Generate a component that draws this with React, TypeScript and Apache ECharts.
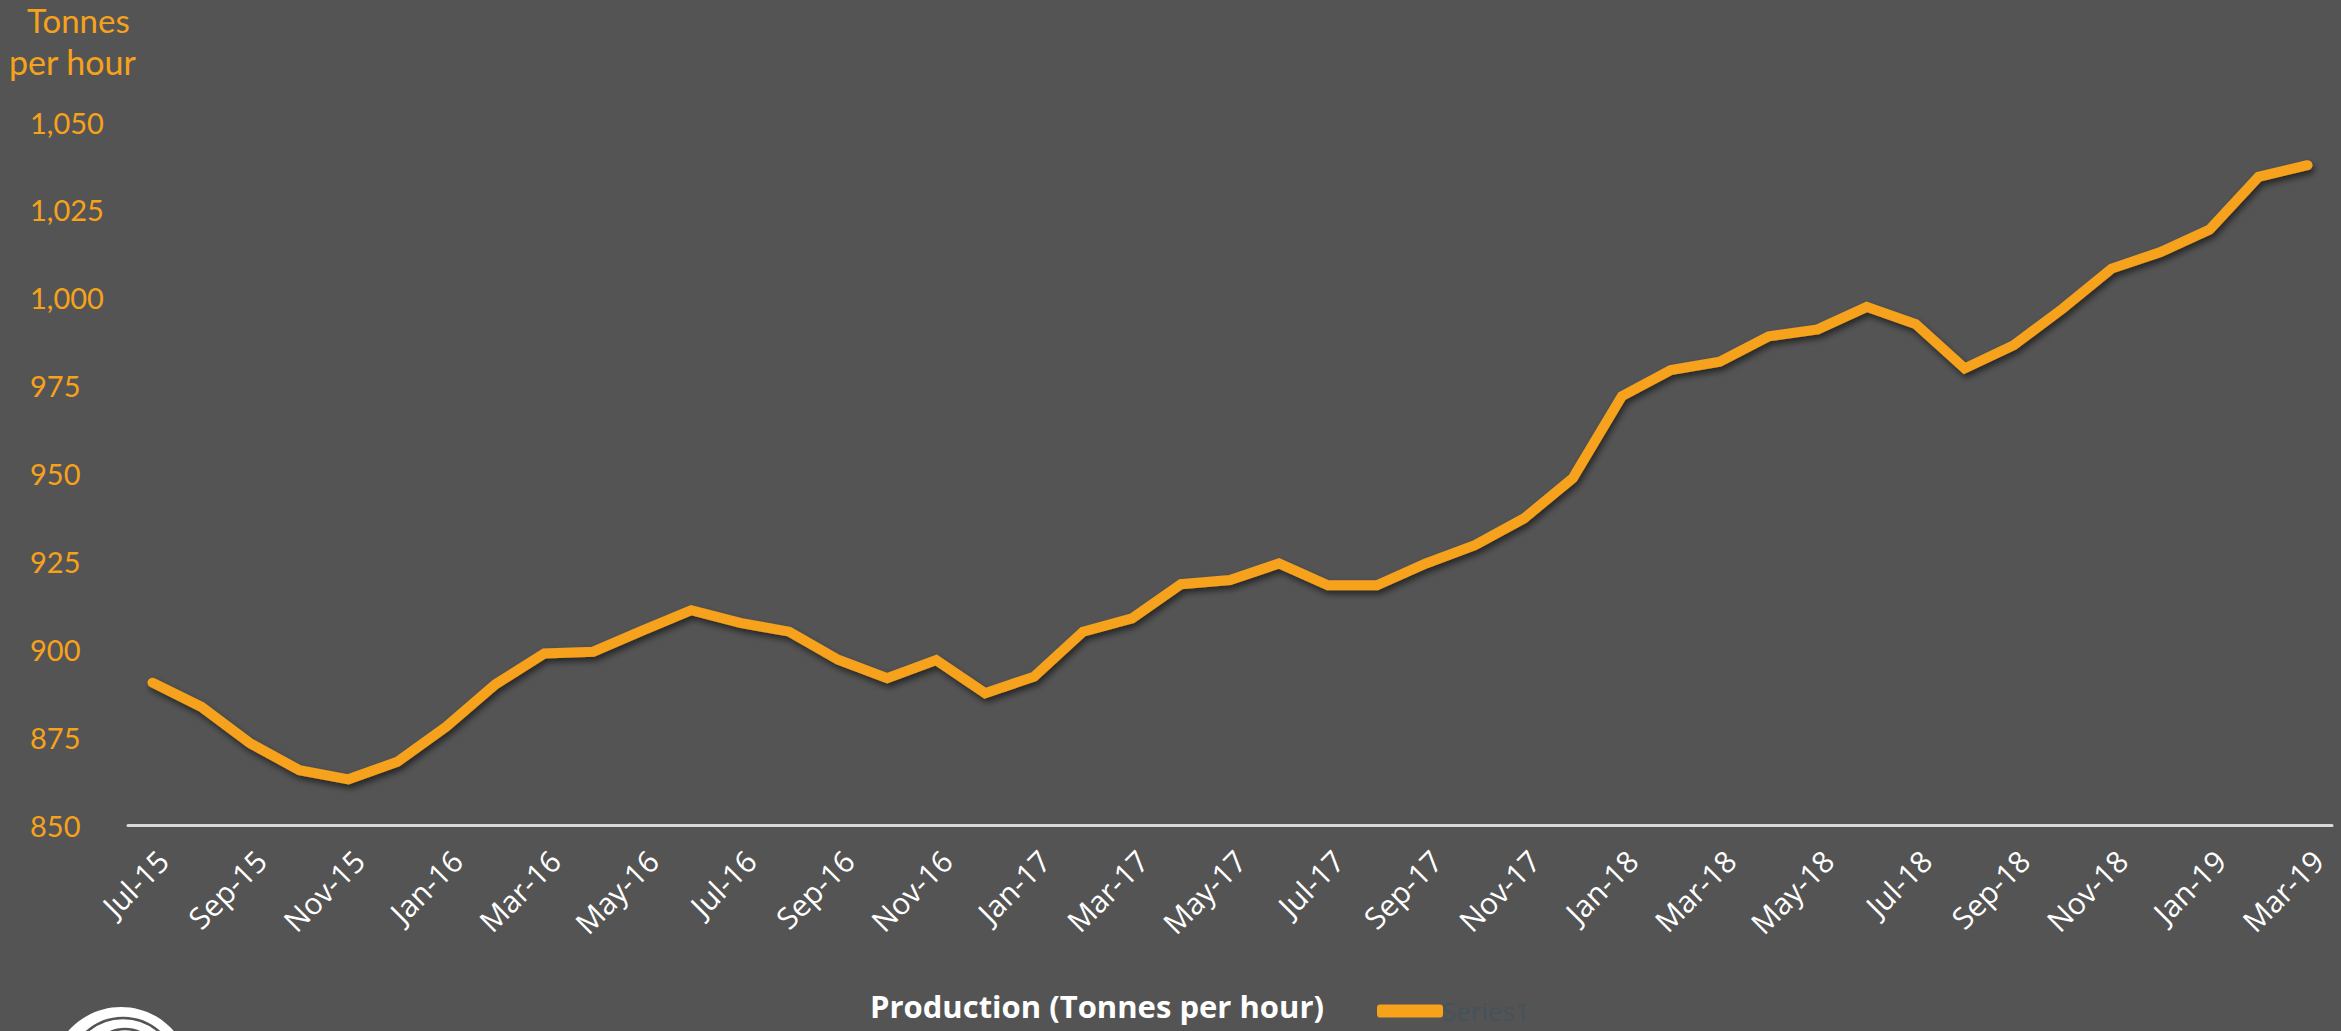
import React, { useEffect, useRef } from "react";
import * as echarts from "echarts";

const categories = [
  "Jul-15","Aug-15","Sep-15","Oct-15","Nov-15","Dec-15",
  "Jan-16","Feb-16","Mar-16","Apr-16","May-16","Jun-16","Jul-16","Aug-16","Sep-16","Oct-16","Nov-16","Dec-16",
  "Jan-17","Feb-17","Mar-17","Apr-17","May-17","Jun-17","Jul-17","Aug-17","Sep-17","Oct-17","Nov-17","Dec-17",
  "Jan-18","Feb-18","Mar-18","Apr-18","May-18","Jun-18","Jul-18","Aug-18","Sep-18","Oct-18","Nov-18","Dec-18",
  "Jan-19","Feb-19","Mar-19",
];

const production = [
  890.5, 883.6, 873.2, 865.6, 863.0, 868.0,
  878.0, 890.0, 898.8, 899.3, 905.3, 911.1, 907.5, 905.0, 897.0, 891.8, 896.9, 887.5,
  892.2, 905.0, 908.8, 918.5, 919.7, 924.4, 918.2, 918.2, 924.4, 929.6, 937.2, 948.7,
  972.0, 979.4, 981.8, 989.0, 991.0, 997.4, 992.5, 979.9, 986.5, 996.9, 1008.3, 1013.0,
  1019.4, 1034.4, 1037.7,
];

const yMin = 850;
const yMax = 1050;
const yStep = 25;

const seriesName = "Series1";
const axisTitle = "Production (Tonnes per hour)";
const unitTitle = ["Tonnes", "per hour"];

export default function App() {
  const ref = useRef<HTMLDivElement>(null);
  useEffect(() => {
    if (!ref.current) return;
    const chart = echarts.init(ref.current, null, { renderer: "svg" });
    const orange = "#F7A21B";
    const bg = "#545454";
    chart.setOption({
      animation: false,
      backgroundColor: bg,
      grid: { left: 128, right: 9, top: 122, bottom: 206, containLabel: false },
      legend: {
        data: [{ name: seriesName, icon: "roundRect" }],
        left: 1372,
        top: 993,
        itemWidth: 66,
        itemHeight: 13,
        itemGap: 0,
        textStyle: { color: "#46525a", fontFamily: "Open Sans", fontSize: 26, padding: [0, 0, 0, -6] },
      },
      xAxis: {
        type: "category",
        data: categories,
        boundaryGap: true,
        axisLine: { show: true, lineStyle: { color: "#d9d9d9", width: 3 } },
        axisTick: { show: false },
        axisLabel: {
          interval: 1,
          rotate: 45,
          color: "#ffffff",
          fontFamily: "Open Sans",
          fontSize: 30,
          margin: 20,
          verticalAlign: "top",
        },
        splitLine: { show: false },
      },
      yAxis: {
        type: "value",
        min: yMin,
        max: yMax,
        interval: yStep,
        axisLine: { show: false },
        axisTick: { show: false },
        splitLine: { show: false },
        axisLabel: {
          color: orange,
          fontFamily: "Lato",
          fontSize: 29,
          align: "left",
          margin: 98,
          formatter: (v: number) => v.toLocaleString("en-US"),
        },
      },
      graphic: [
        {
          type: "text",
          left: 27,
          top: 3,
          style: { text: unitTitle[0], fill: orange, font: "33px Lato" },
        },
        {
          type: "text",
          left: 9,
          top: 44,
          style: { text: unitTitle[1], fill: orange, font: "34px Lato" },
        },
        {
          type: "text",
          left: 870,
          top: 990,
          style: { text: axisTitle, fill: "#ffffff", font: "bold 31px 'Open Sans'" },
        },
        {
          type: "group",
          left: 51,
          top: 1007,
          children: [
            { type: "circle", shape: { cx: 70, cy: 70, r: 70 }, style: { fill: "#ffffff" } },
            { type: "ellipse", shape: { cx: 72, cy: 74, rx: 58, ry: 63 }, style: { fill: "none", stroke: bg, lineWidth: 2.5 } },
            { type: "ellipse", shape: { cx: 74, cy: 80, rx: 44, ry: 58 }, style: { fill: "none", stroke: bg, lineWidth: 2.5 } },
            { type: "ellipse", shape: { cx: 76, cy: 88, rx: 30, ry: 50 }, style: { fill: "none", stroke: bg, lineWidth: 2.5 } },
          ],
        },
      ],
      series: [
        {
          name: seriesName,
          type: "line",
          data: production,
          symbol: "none",
          lineStyle: {
            color: orange,
            width: 10,
            cap: "round",
            join: "miter",
            shadowColor: "rgba(0,0,0,0.55)",
            shadowBlur: 6,
            shadowOffsetX: 2,
            shadowOffsetY: 4,
          },
          itemStyle: { color: orange },
        },
      ],
    });
    return () => chart.dispose();
  }, []);
  return (
    <div
      ref={ref}
      style={{ position: "fixed", left: 0, top: 0, width: 2341, height: 1031 }}
    />
  );
}
